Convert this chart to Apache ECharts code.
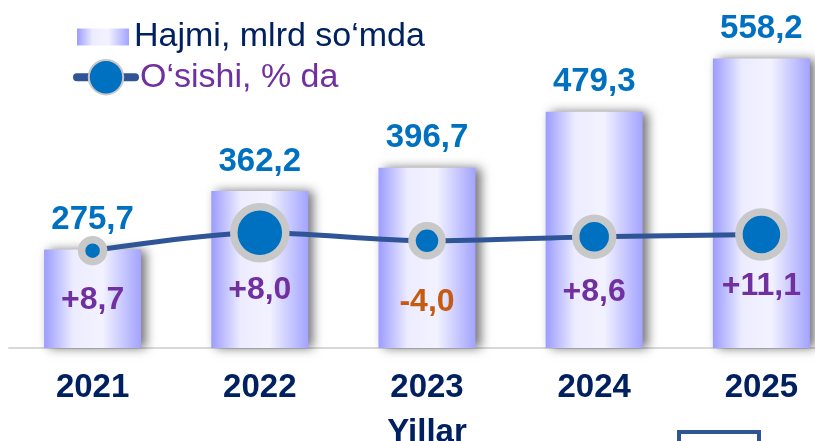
<!DOCTYPE html>
<html>
<head>
<meta charset="utf-8">
<script src="https://cdn.jsdelivr.net/npm/echarts@6/dist/echarts.min.js"></script>
<style>
html, body { margin: 0; padding: 0; background: #fff; }
#chart { width: 815px; height: 441px; }
</style>
</head>
<body>
<div id="chart"></div>
<script>
// values
const years = ['2021', '2022', '2023', '2024', '2025'];
const volume = [275.7, 362.2, 396.7, 479.3, 558.2];   // Hajmi, mlrd so'mda
const growth = [8.7, 8.0, -4.0, 8.6, 11.1];           // O'sishi, % da
const lineLevel = [28.8, 34.1, 31.7, 32.9, 33.6];     // where the growth line sits (hidden 0-100 axis)

const FONT = '"Liberation Sans", Arial, sans-serif';
const dotSizes = [22, 52, 30, 37, 45];
const growthGap = [19, 12, 27, 17, 9];

const chart = echarts.init(document.getElementById('chart'));

function fmt(v) {
    return v.toFixed(1).replace('.', ',');
}

const barFill = new echarts.graphic.LinearGradient(0, 0, 1, 0, [
    { offset: 0, color: '#9c9cff' },
    { offset: 0.3, color: '#ececff' },
    { offset: 0.6, color: '#f2f2ff' },
    { offset: 1, color: '#a3a3ff' }
]);

const lineData = lineLevel.map((v, i) => ({
    value: v,
    symbolSize: dotSizes[i],
    label: {
        distance: growthGap[i],
        color: growth[i] < 0 ? '#c55a11' : '#7030a0'
    }
}));

chart.setOption({
    animation: false,
    grid: { left: 9, width: 836, top: 10, bottom: 93, containLabel: false, outerBoundsMode: 'none' },
    legend: [
        {
            left: 77, top: 20, padding: 0,
            itemWidth: 52, itemHeight: 17,
            icon: 'rect',
            data: ['Hajmi, mlrd so\u2018mda'],
            itemStyle: { shadowBlur: 0, shadowOffsetX: 0 },
            textStyle: { fontFamily: FONT, fontSize: 34, color: '#002060' }
        },
        {
            left: 73, top: 59, padding: 0,
            itemWidth: 58, itemHeight: 43,
            data: ['O\u2018sishi, % da'],
            lineStyle: { width: 8, cap: 'round' },
            textStyle: { fontFamily: FONT, fontSize: 34, color: '#7030a0' }
        }
    ],
    xAxis: {
        type: 'category',
        data: years,
        axisTick: { show: false },
        axisLine: { lineStyle: { color: '#d9d9d9', width: 2 } },
        axisLabel: { fontFamily: FONT, fontSize: 33, fontWeight: 'bold', color: '#002060', margin: 23 },
        name: 'Yillar',
        nameLocation: 'middle',
        nameGap: 68,
        nameTextStyle: { fontFamily: FONT, fontSize: 33, fontWeight: 'bold', color: '#002060' }
    },
    yAxis: [
        { type: 'value', min: 130, max: 630, show: false },
        { type: 'value', min: 0, max: 100, show: false }
    ],
    series: [
        {
            name: 'Hajmi, mlrd so\u2018mda',
            type: 'bar',
            barWidth: 97,
            data: volume,
            itemStyle: {
                color: barFill,
                shadowColor: 'rgba(0,0,0,0.55)',
                shadowBlur: 10,
                shadowOffsetX: 5,
                shadowOffsetY: 0
            },
            label: {
                show: true,
                position: 'top',
                distance: 13,
                formatter: p => fmt(p.value),
                fontFamily: FONT, fontSize: 33, fontWeight: 'bold', color: '#0070c0'
            }
        },
        {
            name: 'O\u2018sishi, % da',
            type: 'line',
            yAxisIndex: 1,
            smooth: 0.3,
            symbol: 'circle',
            data: lineData,
            lineStyle: { color: '#2f5597', width: 5 },
            itemStyle: { color: '#0070c0', borderColor: '#c8c8c8', borderWidth: 7.5 },
            label: {
                show: true,
                position: 'bottom',
                formatter: p => (growth[p.dataIndex] > 0 ? '+' : '') + fmt(growth[p.dataIndex]),
                fontFamily: FONT, fontSize: 32, fontWeight: 'bold'
            }
        }
    ],
    graphic: [
        {
            type: 'rect', left: 677, top: 430, z: 100,
            shape: { width: 80, height: 24 },
            style: { fill: '#fff', stroke: '#2f5597', lineWidth: 4 }
        }
    ]
});
</script>
</body>
</html>
